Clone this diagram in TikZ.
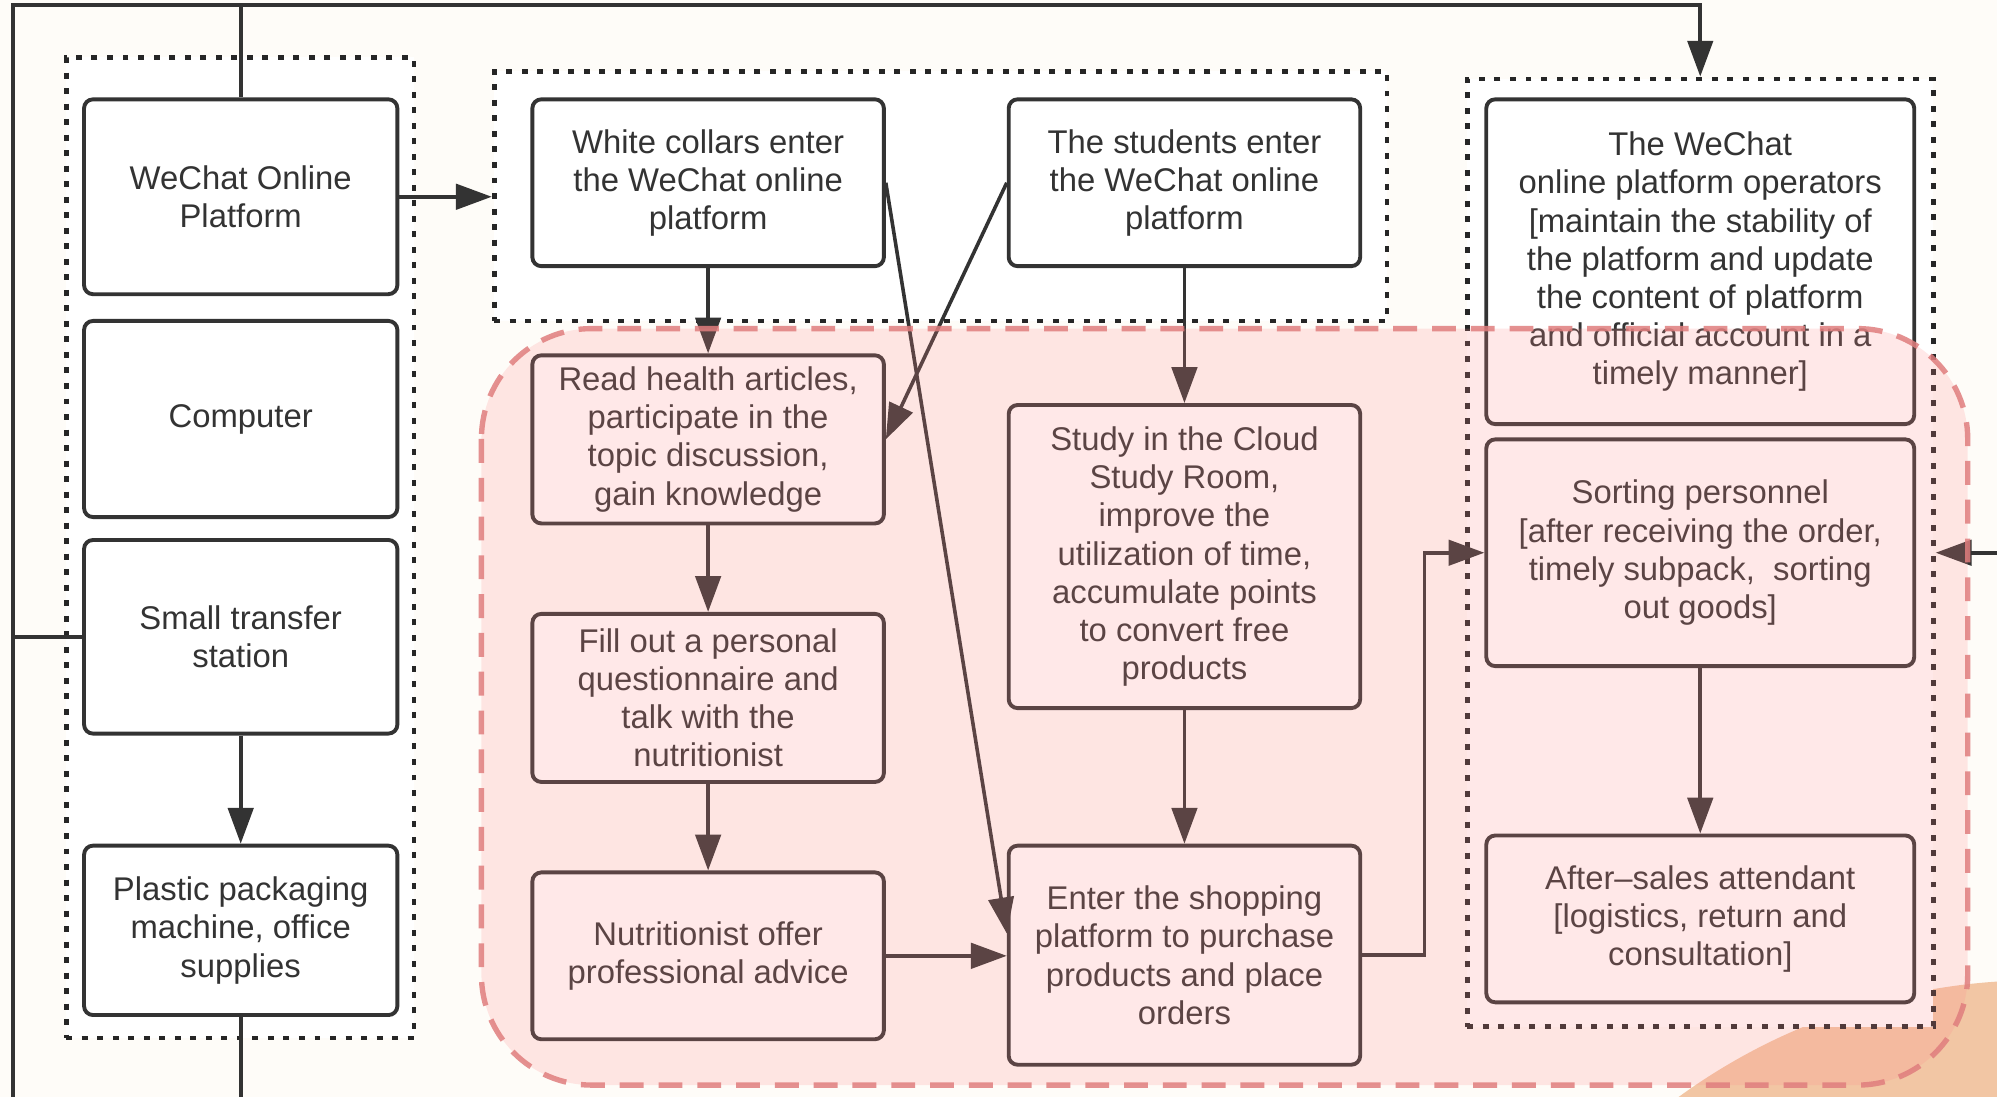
\documentclass[tikz,border=0pt]{standalone}
\usepackage{fontspec}
\setmainfont{Liberation Sans}
\usetikzlibrary{arrows.meta}

\definecolor{ink}{HTML}{333333}
\definecolor{cream}{HTML}{FEFCF8}
\definecolor{peach}{HTML}{F2C6A4}
\definecolor{rose}{HTML}{FF8C8C}
\definecolor{roseline}{HTML}{E07E7E}

\begin{document}
\begin{tikzpicture}[x=1.5cm, y=-1.5cm,
  box/.style={draw=ink, text=ink, fill=white, line width=1.3pt, rounded corners=3pt,
    align=center, inner sep=0pt, font=\fontsize{11}{12.8}\selectfont},
  lcol/.style={box, minimum width=3.69cm},
  mcol/.style={box, minimum width=4.14cm},
  rcol/.style={box, minimum width=5.04cm},
  group/.style={draw=black!85, fill=white, line width=1.6pt, dash pattern=on 2pt off 3.2pt, inner sep=0pt},
  link/.style={draw=ink, line width=1.2pt},
  arr/.style={link, -{Triangle[length=12pt, width=8.5pt]}},
  zone/.style={fill=rose, fill opacity=0.2, draw=roseline, draw opacity=0.85, line width=1.8pt,
    dash pattern=on 8pt off 5pt, rounded corners=1.3cm}]

\useasboundingbox (0,0) rectangle (15.68,8.61);
\fill[cream] (0,0) rectangle (15.68,8.61);

\begin{scope}
  \clip (0,0) rectangle (15.68,8.61);
  \fill[peach] (16.0,12.49) circle [radius=7.19cm];
\end{scope}

\node[group, minimum width=4.095cm, minimum height=11.55cm] (leftgroup) at (1.885,4.30) {};
\node[group, minimum width=10.515cm, minimum height=2.94cm] (topgroup) at (7.385,1.54) {};
\node[group, minimum width=5.49cm, minimum height=11.16cm] (rightgroup) at (13.35,4.34) {};

\node[lcol, minimum height=2.295cm] (wechat) at (1.89,1.545) {WeChat Online\\Platform};
\node[lcol, minimum height=2.31cm] (computer) at (1.89,3.29) {Computer};
\node[lcol, minimum height=2.28cm] (transfer) at (1.89,5.00) {Small transfer\\station};
\node[lcol, minimum height=1.995cm] (plastic) at (1.89,7.305) {Plastic packaging\\machine, office\\supplies};

\node[mcol, minimum height=1.965cm] (white) at (5.56,1.435) {White collars enter\\the WeChat online\\platform};
\node[mcol, minimum height=1.98cm] (read) at (5.56,3.45) {Read health articles,\\participate in the\\topic discussion,\\gain knowledge};
\node[mcol, minimum height=1.98cm] (fill) at (5.56,5.48) {Fill out a personal\\questionnaire and\\talk with the\\nutritionist};
\node[mcol, minimum height=1.965cm] (nutri) at (5.56,7.505) {Nutritionist offer\\professional advice};

\node[mcol, minimum height=1.965cm] (students) at (9.30,1.435) {The students enter\\the WeChat online\\platform};
\node[mcol, minimum height=3.57cm] (study) at (9.30,4.37) {Study in the Cloud\\Study Room,\\improve the\\utilization of time,\\accumulate points\\to convert free\\products};
\node[mcol, minimum height=2.58cm] (shop) at (9.30,7.50) {Enter the shopping\\platform to purchase\\products and place\\orders};

\node[rcol, minimum height=3.825cm] (operators) at (13.35,2.055) {The WeChat\\online platform operators\\{}[maintain the stability of\\the platform and update\\the content of platform\\and official account in a\\timely manner]};
\node[rcol, minimum height=2.67cm] (sorting) at (13.35,4.34) {Sorting personnel\\{}[after receiving the order,\\timely subpack, \ sorting\\out goods]};
\node[rcol, minimum height=1.965cm] (aftersales) at (13.35,7.215) {After--sales attendant\\{}[logistics, return and\\consultation]};

\coordinate (tl) at (0.10,0.04);
\coordinate (bl) at (0.10,8.61);
\coordinate (bt) at (1.89,8.61);
\coordinate (re) at (15.68,4.34);

\draw[arr] (bl) -- (tl) -| (rightgroup.north);

\draw[link] (wechat.north) -- (wechat.north |- tl);

\draw[link] (transfer.west) -- (transfer.west -| tl);

\draw[link] (plastic.south) -- (bt);

\draw[arr] (re) -- (rightgroup.east);

\draw[arr] (wechat.east) -- (wechat.east -| topgroup.west);

\draw[arr] (transfer) -- (plastic);

\draw[arr] (white) -- (read);

\draw[arr] (read) -- (fill);

\draw[arr] (fill) -- (nutri);

\draw[arr] (nutri.east) -- (shop.west |- nutri.east);

\draw[arr] (students) -- (study);

\draw[arr] (study) -- (shop);

\draw[arr] (students.west) -- (read.east);

\draw[arr] (white.east) -- (shop.173);

\draw[arr] (shop.east) -- ++(0.49,0) |- (sorting.west);

\draw[arr] (sorting) -- (aftersales);

\draw[zone] (3.78,2.58) rectangle (15.45,8.52);

\end{tikzpicture}
\end{document}
